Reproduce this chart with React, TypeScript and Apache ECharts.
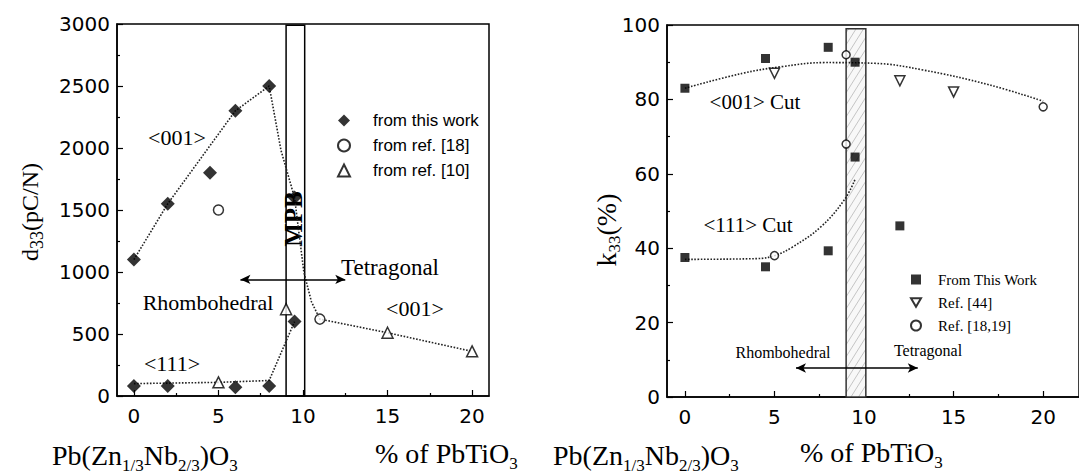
import React, { useEffect, useRef } from 'react';
import * as echarts from 'echarts';

const SERIF = 'Liberation Serif';
const SANS = 'DejaVu Sans';
const LEG_SANS = 'Liberation Sans';

// shared x ticks
const xTicksMajor = [0, 5, 10, 15, 20];
const xTicksMinor = [2.5, 7.5, 12.5, 17.5];

// ---- left chart: d33 ----
const d33ThisWork = [
  [0, 1100], [2, 1550], [4.5, 1800], [6, 2300], [8, 2500], [9.5, 1600], [9.5, 600],
  [0, 80], [2, 80], [6, 70], [8, 80],
];
const d33Ref18 = [[5, 1500], [11, 620]];
const d33Ref10 = [[5, 110], [9, 700], [15, 510], [20, 360]];
const d33Line001 = [
  [0, 1100], [2, 1550], [6, 2300], [8, 2500], [8.7, 1980], [9.5, 1600],
  [10.05, 1000], [10.5, 760], [11, 620], [15, 510], [20, 360],
];
const d33Line111 = [[0, 100], [5, 110], [8, 125], [9.5, 600]];
const d33Mpb = [[9, 10.1, 2990]];
const d33Arrow = [[6.3, 940], [12.5, 940]];

// ---- right chart: k33 ----
const k33ThisWork = [
  [0, 83], [4.5, 91], [8, 94], [9.5, 90], [9.5, 64.5], [12, 46],
  [0, 37.5], [4.5, 35], [8, 39.3],
];
const k33Ref44 = [[5, 87], [12, 85], [15, 82]];
const k33Ref1819 = [[9, 92], [9, 68], [5, 38], [20, 78]];
const k33Curve001 = [
  [0, 83], [3.2, 87], [5.4, 88.8], [7.8, 89.9], [10.6, 89.7], [13.3, 87.9], [17, 83.9], [20, 79.5],
];
const k33Curve111 = [
  [0, 37], [4, 37.2], [5, 38], [6, 40.3], [7.6, 45.8], [8.9, 53], [9.5, 58.5],
];
const k33Mpb = [[9, 10.1, 99]];
const k33Arrow = [[6.2, 7.8], [13, 7.8]];

const black = '#000';
const DOWN_TRIANGLE = 'path://M0,0L2,0L1,1.732Z';

function majorX(grid: number, min: number, max: number) {
  return {
    gridIndex: grid, type: 'value', min, max, position: 'bottom',
    axisLine: { show: true, onZero: false, lineStyle: { color: black, width: 1.5 } },
    axisTick: { show: true, inside: true, length: 6, customValues: xTicksMajor, lineStyle: { color: black, width: 1.2 } },
    axisLabel: { customValues: xTicksMajor, fontFamily: SANS, fontSize: 20, color: black, margin: 10 },
    splitLine: { show: false },
  };
}
function minorX(grid: number, min: number, max: number) {
  return {
    gridIndex: grid, type: 'value', min, max, position: 'bottom',
    axisLine: { show: false },
    axisTick: { show: true, inside: true, length: 3, customValues: xTicksMinor, lineStyle: { color: black, width: 1.2 } },
    axisLabel: { show: false },
    splitLine: { show: false },
  };
}
function yAx(grid: number, max: number, interval: number) {
  return {
    gridIndex: grid, type: 'value', min: 0, max, interval,
    axisLine: { show: true, onZero: false, lineStyle: { color: black, width: 1.5 } },
    axisTick: { show: true, inside: true, length: 6, lineStyle: { color: black, width: 1.2 } },
    minorTick: { show: true, splitNumber: 2, length: 3, lineStyle: { color: black, width: 1.2 } },
    axisLabel: { fontFamily: SANS, fontSize: 20, color: black, margin: 7, formatter: (v: number) => String(v) },
    splitLine: { show: false },
    minorSplitLine: { show: false },
  };
}

const dotted = { type: 'dotted', width: 1.6, color: '#222' };

function lineSeries(xi: number, yi: number, data: number[][], smooth: boolean, arrow?: number[][]) {
  const s: any = {
    type: 'line', xAxisIndex: xi, yAxisIndex: yi, data, smooth: smooth ? 0.4 : false,
    showSymbol: false, symbol: 'none', lineStyle: dotted, z: 2, silent: true,
  };
  if (arrow) {
    s.markLine = {
      silent: true, symbol: ['arrow', 'arrow'], symbolSize: [7, 10], label: { show: false },
      lineStyle: { type: 'solid', color: black, width: 1.5 },
      data: [[{ coord: arrow[0] }, { coord: arrow[1] }]],
    };
  }
  return s;
}

function scatter(name: string, xi: number, yi: number, data: number[][], symbol: string, size: number, hollow: boolean) {
  return {
    type: 'scatter', name, xAxisIndex: xi, yAxisIndex: yi, data, symbol, symbolSize: size, z: 5,
    itemStyle: hollow ? { color: '#fff', borderColor: black, borderWidth: 1.5 } : { color: black },
  };
}

function txt(x: number, y: number, text: string, size: number, extra: any = {}) {
  const { bold, ...rest } = extra;
  return {
    type: 'text', x, y, z: 1, ...rest,
    style: { text, fontFamily: SERIF, fontSize: size, fill: black, align: 'center', verticalAlign: 'middle', fontWeight: bold ? 'bold' : 'normal' },
  };
}

function richTxt(x: number, y: number, text: string, fm: number, fs: number, hm: number, align: string, rotation = 0) {
  return {
    type: 'text', x, y, rotation,
    style: {
      text, align, verticalAlign: 'middle', fill: black, fontFamily: SERIF,
      rich: {
        m: { fontFamily: SERIF, fontSize: fm, lineHeight: hm, fill: black },
        s: { fontFamily: SERIF, fontSize: fs, lineHeight: fs, verticalAlign: 'bottom', fill: black },
      },
    },
  };
}

export default function App() {
  const ref = useRef<HTMLDivElement>(null);
  useEffect(() => {
    if (!ref.current) return;
    const chart = echarts.init(ref.current, undefined, { renderer: 'svg' });
    const option: any = {
      animation: false,
      backgroundColor: '#fff',
      grid: [
        { left: 117, top: 24, width: 372, height: 372, show: true, borderColor: black, borderWidth: 1.5, backgroundColor: 'transparent' },
        { left: 667, top: 25, width: 417, height: 372, show: true, borderColor: black, borderWidth: 1.5, backgroundColor: 'transparent' },
      ],
      xAxis: [majorX(0, -1, 21), minorX(0, -1, 21), majorX(1, -1, 22), minorX(1, -1, 22)],
      yAxis: [yAx(0, 3000, 500), yAx(1, 100, 20)],
      legend: [
        {
          data: ['from this work', 'from ref. [18]', 'from ref. [10]'], orient: 'vertical', left: 337, top: 112,
          padding: 0, itemWidth: 12, itemHeight: 12, itemGap: 8, selectedMode: false,
          textStyle: { fontFamily: LEG_SANS, fontSize: 17, color: black, padding: [0, 0, 0, 18] },
        },
        {
          data: ['From This Work', { name: 'Ref. [44]', icon: DOWN_TRIANGLE }, 'Ref. [18,19]'], orient: 'vertical', left: 910, top: 272,
          padding: 0, itemWidth: 10, itemHeight: 10, itemGap: 8, selectedMode: false,
          textStyle: { fontFamily: SERIF, fontSize: 15, color: black, padding: [0, 0, 0, 12] },
        },
      ],
      series: [
        {
          type: 'custom', xAxisIndex: 0, yAxisIndex: 0, data: d33Mpb, z: 1, silent: true, clip: false,
          encode: { x: [0, 1], y: 2 },
          renderItem: (_p: any, api: any) => {
            const a = api.coord([api.value(0), 0]);
            const b = api.coord([api.value(1), api.value(2)]);
            return {
              type: 'rect', shape: { x: a[0], y: b[1], width: b[0] - a[0], height: a[1] - b[1] },
              style: { fill: 'none', stroke: black, lineWidth: 1.5 },
            };
          },
        },
        {
          type: 'custom', xAxisIndex: 2, yAxisIndex: 1, data: k33Mpb, z: 1, silent: true, clip: false,
          encode: { x: [0, 1], y: 2 },
          renderItem: (_p: any, api: any) => {
            const a = api.coord([api.value(0), 0]);
            const b = api.coord([api.value(1), api.value(2)]);
            const x0 = a[0], x1 = b[0], yb = a[1], yt = b[1];
            const w = x1 - x0, d = w * 1.6, s = 12;
            const children: any[] = [
              { type: 'rect', shape: { x: x0, y: yt, width: w, height: yb - yt }, style: { fill: '#f8f8f8', stroke: 'none' } },
            ];
            for (let ya = yt + 4; ya < yb + d; ya += s) {
              let xs = x0, ys = ya, xe = x1, ye = ya - d;
              if (ys > yb) { xs = x0 + ((ys - yb) / d) * w; ys = yb; }
              if (ye < yt) { xe = x0 + ((ya - yt) / d) * w; ye = yt; }
              if (xs >= xe) continue;
              children.push({ type: 'line', shape: { x1: xs, y1: ys, x2: xe, y2: ye }, style: { stroke: '#b8b8b8', lineWidth: 0.8 } });
            }
            children.push({
              type: 'rect', shape: { x: x0, y: yt, width: w, height: yb - yt },
              style: { fill: 'none', stroke: '#333', lineWidth: 1.5 },
            });
            return { type: 'group', children };
          },
        },
        lineSeries(0, 0, d33Line001, false, d33Arrow),
        lineSeries(0, 0, d33Line111, false),
        lineSeries(2, 1, k33Curve001, true, k33Arrow),
        lineSeries(2, 1, k33Curve111, true),
        scatter('from this work', 0, 0, d33ThisWork, 'diamond', 14, false),
        scatter('from ref. [18]', 0, 0, d33Ref18, 'circle', 10, true),
        scatter('from ref. [10]', 0, 0, d33Ref10, 'triangle', 11, true),
        scatter('From This Work', 2, 1, k33ThisWork, 'rect', 9, false),
        scatter('Ref. [44]', 2, 1, k33Ref44, DOWN_TRIANGLE, 10, true),
        scatter('Ref. [18,19]', 2, 1, k33Ref1819, 'circle', 8, true),
      ],
      graphic: [
        txt(177, 137, '<001>', 22),
        txt(172, 363, '<111>', 22),
        txt(415, 308, '<001>', 22),
        txt(390, 267, 'Tetragonal', 23),
        txt(208, 302, 'Rhombohedral', 22),
        txt(293, 219, 'MPB', 25, { rotation: Math.PI / 2, bold: true }),
        txt(755, 102, '<001> Cut', 21),
        txt(748, 225, '<111> Cut', 21),
        txt(783, 352, 'Rhombohedral', 16),
        txt(928, 350, 'Tetragonal', 16),
        txt(857, 284, 'MPB', 19, { rotation: Math.PI / 2, bold: true }),
        richTxt(30, 212, '{m|d}{s|33}{m|(pC/N)}', 24, 18, 32, 'center', Math.PI / 2),
        richTxt(606, 230, '{m|k}{s|33}{m|(%)}', 28, 17, 34, 'center', Math.PI / 2),
        richTxt(52, 455, '{m|Pb(Zn}{s|1/3}{m|Nb}{s|2/3}{m|)O}{s|3}', 28, 17, 38, 'left'),
        richTxt(375, 453, '{m|% of PbTiO}{s|3}', 28, 17, 38, 'left'),
        richTxt(553, 455, '{m|Pb(Zn}{s|1/3}{m|Nb}{s|2/3}{m|)O}{s|3}', 28, 17, 38, 'left'),
        richTxt(800, 452, '{m|% of PbTiO}{s|3}', 28, 17, 38, 'left'),
      ],
    };
    chart.setOption(option);
    return () => chart.dispose();
  }, []);
  return <div ref={ref} style={{ position: 'absolute', left: 0, top: 0, width: 1079, height: 474 }} />;
}
